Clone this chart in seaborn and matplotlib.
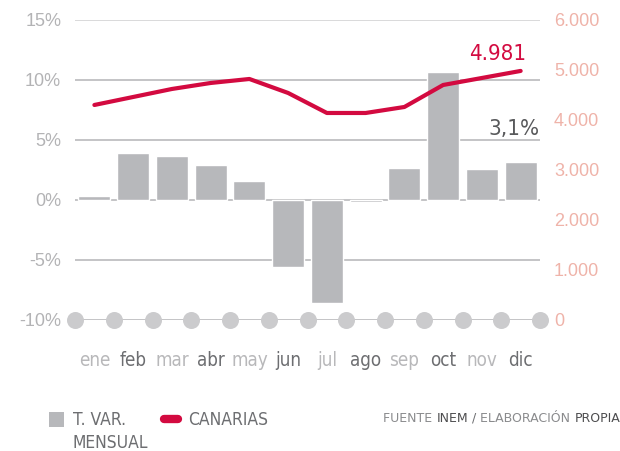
import numpy as np
import pandas as pd
import matplotlib.pyplot as plt
import seaborn as sns
from matplotlib.patches import Rectangle
from matplotlib.lines import Line2D
from matplotlib.offsetbox import TextArea, HPacker, AnnotationBbox

# monthly data
months = ['ene', 'feb', 'mar', 'abr', 'may', 'jun', 'jul', 'ago', 'sep', 'oct', 'nov', 'dic']
var_mensual = [0.3, 3.9, 3.7, 2.9, 1.6, -5.6, -8.6, -0.2, 2.7, 10.7, 2.6, 3.2]
canarias = [4300, 4460, 4620, 4740, 4820, 4540, 4140, 4140, 4260, 4700, 4840, 4981]
left_ticks = [-10, -5, 0, 5, 10, 15]
right_ticks = [0, 1000, 2000, 3000, 4000, 5000, 6000]

df = pd.DataFrame({'mes': months, 'var': var_mensual, 'canarias': canarias, 'pos': np.arange(len(months))})

sns.set_style('white')
plt.rcParams['font.family'] = ['Liberation Sans', 'DejaVu Sans']

bar_col = '#b7b8bb'
red = '#d30a40'
grid_col = '#c4c4c6'
left_col = '#b3b3b5'
right_col = '#efb3a9'
narrow = dict(family='DejaVu Sans', stretch='condensed')

fig = plt.figure(figsize=(6.2, 4.51), dpi=100)
ax = fig.add_axes([0.121, 0.2905, 0.750, 0.6652])

sns.barplot(data=df, x='pos', y='var', color=bar_col, saturation=1, width=0.83, ax=ax, zorder=3)
ax.set_xlim(-0.5, len(months) - 0.5)
ax.set_ylim(-10, 15)

# gridlines
for t in left_ticks:
    ax.axhline(t, color='#d9d9db' if t == 15 else grid_col, lw=1.4, zorder=1)
ax.scatter(np.arange(len(months) + 1) - 0.5, [-10] * (len(months) + 1), s=150, color='#cbcbcd',
           zorder=4, clip_on=False, linewidths=0)

ax.set_yticks(left_ticks)
ax.set_yticklabels([f'{t}%' for t in left_ticks], color=left_col, fontsize=13)
ax.set_xticks(df['pos'])
ax.set_xticklabels(months, fontsize=13.5, **narrow)
for i, lab in enumerate(ax.get_xticklabels()):
    lab.set_color('#6d6e71' if i % 2 else '#b8b8ba')
ax.tick_params(axis='x', length=0, pad=22)
ax.tick_params(axis='y', length=0, pad=10)
ax.set_xlabel('')
ax.set_ylabel('')
for s in ax.spines.values():
    s.set_visible(False)

ax2 = ax.twinx()
sns.lineplot(data=df, x='pos', y='canarias', color=red, lw=3, ax=ax2, zorder=5)
ax2.set_ylim(0, 6000)
ax2.set_yticks(right_ticks)
ax2.set_yticklabels([f'{t:,}'.replace(',', '.') for t in right_ticks], color=right_col, fontsize=13)
ax2.tick_params(axis='y', length=0, pad=10)
ax2.set_ylabel('')
ax2.set_xlabel('')
for s in ax2.spines.values():
    s.set_visible(False)

ax2.text(df['pos'].iloc[-1] - 0.6, canarias[-1] + 130, f'{canarias[-1]:,}'.replace(',', '.'),
         color=red, fontsize=16, ha='center', va='bottom', **narrow)
ax.text(len(months) - 0.5, var_mensual[-1] + 1.9, '3,1%', color='#58595b', fontsize=16,
        ha='right', va='bottom', **narrow)

# legend (drawn by hand to keep the two-line label aligned to the top)
W, H = 620, 451
fig.add_artist(Rectangle((49 / W, 1 - 427 / H), 15 / W, 15 / H, transform=fig.transFigure,
                         facecolor=bar_col, edgecolor='none'))
fig.text(73 / W, 1 - 420 / H, 'T. VAR.', color='#6d6e71', fontsize=12.5, va='center', **narrow)
fig.text(73 / W, 1 - 443 / H, 'MENSUAL', color='#6d6e71', fontsize=12.5, va='center', **narrow)
fig.add_artist(Line2D([164 / W, 178 / W], [1 - 419 / H] * 2, transform=fig.transFigure,
                      color=red, lw=6, solid_capstyle='round'))
fig.text(188 / W, 1 - 420 / H, 'CANARIAS', color='#6d6e71', fontsize=12.5, va='center', **narrow)

# source
parts = [('FUENTE ', '#8a8b8d'), ('INEM', '#4d4d4f'), (' / ', '#6d6e71'),
         ('ELABORACIÓN ', '#8a8b8d'), ('PROPIA', '#4d4d4f')]
boxes = [TextArea(p, textprops=dict(color=c, fontsize=9, family='DejaVu Sans')) for p, c in parts]
pack = HPacker(children=boxes, align='baseline', pad=0, sep=0)
ab = AnnotationBbox(pack, (1.0, 1 - 418 / H), xycoords='figure fraction', box_alignment=(1, 0.5),
                    frameon=False, pad=0)
fig.add_artist(ab)

fig.savefig('out.png', dpi=100)
